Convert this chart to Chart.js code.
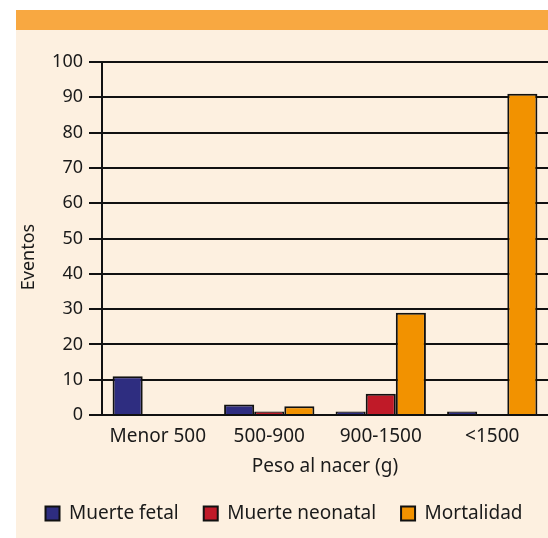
<!DOCTYPE html>
<html>
<head>
<meta charset="utf-8">
<script src="https://cdn.jsdelivr.net/npm/chart.js@4.4.1/dist/chart.umd.min.js"></script>
<style>
  body { margin: 0; background: #fff; }
  #wrap { position: relative; width: 548px; height: 538px; overflow: hidden; }
  #panel { position: absolute; left: 16px; top: 10px; right: 0; bottom: 0; background: #fdf0e0; }
  #band { position: absolute; left: 16px; top: 10px; right: 0; height: 20px; background: #f8a841; }
  canvas { position: absolute; left: 0; top: 0; }
</style>
</head>
<body>
<div id="wrap">
  <div id="panel"></div>
  <div id="band"></div>
  <canvas id="chart" width="548" height="538"></canvas>
</div>
<script>
// Data
const categories = ['Menor 500', '500-900', '900-1500', '<1500'];
const muerteFetal = [11, 3, 1, 1];
const muerteNeonatal = [0, 1, 6, 0];
const mortalidad = [0, 2.5, 29, 91];
const yTicks = [0, 10, 20, 30, 40, 50, 60, 70, 80, 90, 100];

const FONT = '"Noto Sans", sans-serif';
const ink = '#1a1a1a';

// y axis title drawn by hand so it can sit lower than the chart-area middle
const yTitle = {
  id: 'yTitle',
  afterDraw(chart) {
    const ctx = chart.ctx;
    ctx.save();
    ctx.translate(29, 257);
    ctx.rotate(-Math.PI / 2);
    ctx.font = '18px ' + FONT;
    ctx.fillStyle = ink;
    ctx.textAlign = 'center';
    ctx.textBaseline = 'middle';
    ctx.fillText('Eventos', 0, 0);
    ctx.restore();
  }
};

new Chart(document.getElementById('chart'), {
  type: 'bar',
  data: {
    labels: categories,
    datasets: [
      { label: 'Muerte fetal', data: muerteFetal, backgroundColor: '#2e2d80' },
      { label: 'Muerte neonatal', data: muerteNeonatal, backgroundColor: '#c01a28' },
      { label: 'Mortalidad', data: mortalidad, backgroundColor: '#f29200' }
    ]
  },
  options: {
    responsive: false,
    animation: false,
    datasets: {
      bar: {
        borderColor: '#111',
        borderWidth: 2,
        borderSkipped: 'start',
        categoryPercentage: 0.81,
        barPercentage: 1.0
      }
    },
    // left padding nudges the centred legend right, as in the original
    layout: { padding: { top: 62, left: 20, right: 0, bottom: 5 } },
    scales: {
      x: {
        grid: { display: false, drawTicks: false },
        border: { display: true, color: '#111', width: 2 },
        ticks: { color: ink, font: { family: FONT, size: 19 }, padding: 10 },
        title: {
          display: true, text: 'Peso al nacer (g)', color: ink,
          font: { family: FONT, size: 19 }, padding: { top: 0, bottom: 1 }
        },
        afterFit(scale) { scale.height = 64; }
      },
      y: {
        min: 0, max: 100,
        afterBuildTicks(scale) { scale.ticks = yTicks.map(v => ({ value: v })); },
        grid: { color: '#111', lineWidth: 2, tickLength: 13 },
        border: { display: true, color: '#111', width: 2 },
        ticks: { color: ink, font: { family: FONT, size: 18 }, padding: 6 },
        afterFit(scale) { scale.width = 82; }
      }
    },
    plugins: {
      legend: {
        position: 'bottom',
        labels: {
          color: ink,
          font: { family: FONT, size: 19 },
          boxWidth: 14,
          boxHeight: 14,
          padding: 25
        }
      },
      tooltip: { enabled: false }
    }
  },
  plugins: [yTitle]
});
</script>
</body>
</html>
